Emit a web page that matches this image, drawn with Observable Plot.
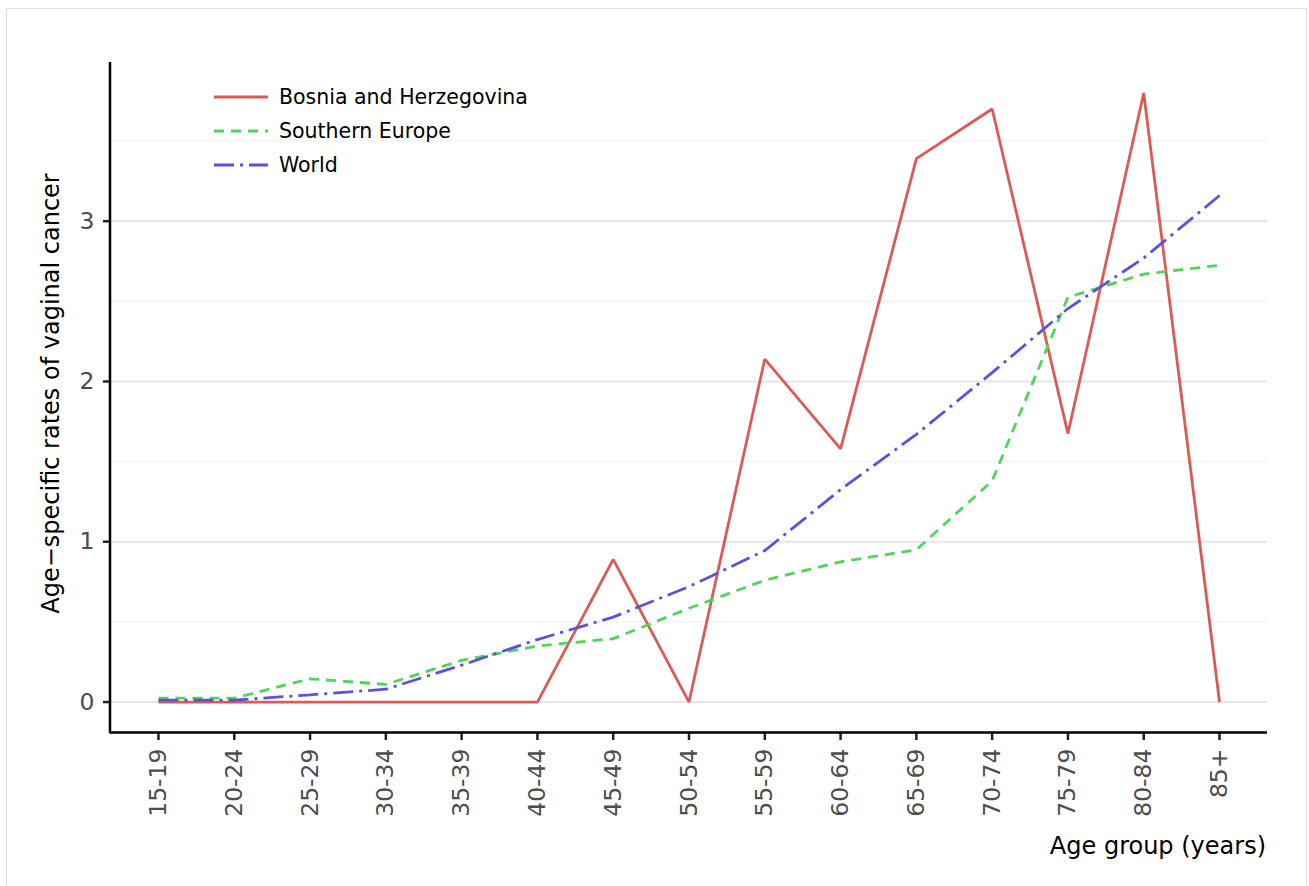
<!DOCTYPE html>
<html>
<head>
<meta charset="utf-8">
<script src="https://cdn.jsdelivr.net/npm/d3@7"></script>
<script src="https://cdn.jsdelivr.net/npm/@observablehq/plot@0.6"></script>
<style>
  html, body { margin: 0; padding: 0; background: #fff; }
  #wrap { position: relative; width: 1309px; height: 886px; overflow: hidden; }
  #border { position: absolute; left: 6px; top: 8px; width: 1301px; height: 900px; border: 1.5px solid #dedede; box-sizing: border-box; }
  #chart { position: absolute; left: 0; top: 0; }
</style>
</head>
<body>
<div id="wrap"><div id="border"></div><div id="chart"></div></div>
<script>
// ---- Data ----
const ages = ["15-19","20-24","25-29","30-34","35-39","40-44","45-49","50-54","55-59","60-64","65-69","70-74","75-79","80-84","85+"];
const bosnia   = [0, 0, 0, 0, 0, 0, 0.89, 0, 2.14, 1.58, 3.39, 3.70, 1.675, 3.80, 0];
const southern = [0.025, 0.025, 0.145, 0.11, 0.26, 0.35, 0.395, 0.585, 0.76, 0.875, 0.95, 1.38, 2.525, 2.67, 2.725];
const world    = [0.012, 0.012, 0.045, 0.08, 0.23, 0.39, 0.53, 0.72, 0.945, 1.325, 1.67, 2.055, 2.455, 2.77, 3.16];
const seriesNames = ["Bosnia and Herzegovina", "Southern Europe", "World"];
const yTicks = [0, 1, 2, 3];
const yMinor = [0.5, 1.5, 2.5, 3.5];
const xTitle = "Age group (years)";
const yTitle = "Age\u2212specific rates of vaginal cancer";

// ---- Styles ----
const colors = ["#da5b55", "#50d55b", "#5b52da"];
const dashes = ["none", "10,7", "20,6,3,6"];
const FONT = "DejaVu Sans";

const table = [];
[bosnia, southern, world].forEach((vals, s) => {
  vals.forEach((v, i) => table.push({series: seriesNames[s], age: ages[i], value: v}));
});

const W = 1309, H = 886, mL = 110, mR = 42, mT = 62, mB = 154;

const lineMarks = seriesNames.map((name, s) =>
  Plot.line(table.filter(d => d.series === name), {
    x: "age", y: "value", stroke: colors[s], strokeWidth: 2.8,
    strokeDasharray: dashes[s], strokeLinejoin: "miter", strokeLinecap: "butt"
  })
);

const chart = Plot.plot({
  width: W, height: H,
  marginLeft: mL, marginRight: mR, marginTop: mT, marginBottom: mB,
  x: {type: "point", domain: ages, padding: 0.633, round: false},
  y: {domain: [-0.19, 3.99]},
  style: {fontFamily: FONT, background: "transparent"},
  marks: [
    Plot.ruleY(yMinor, {stroke: "#f4f4f4", strokeWidth: 1.5}),
    Plot.ruleY(yTicks, {stroke: "#e5e5e5", strokeWidth: 2}),
    Plot.axisY(yTicks, {tickSize: 7, tickPadding: 9, fontSize: 23.5, fill: "#4d4d4d", stroke: "#222", strokeWidth: 2.5, tickFormat: d => String(d), label: null}),
    Plot.axisX({tickRotate: -90, tickSize: 8, tickPadding: 8, fontSize: 23.5, fill: "#4d4d4d", stroke: "#222", strokeWidth: 2.5, label: null}),
    ...lineMarks,
    Plot.ruleY([-0.19], {stroke: "#000", strokeWidth: 2.5})
  ]
});

document.getElementById("chart").appendChild(chart);

const svg = d3.select(chart);
// left axis line
svg.append("line")
  .attr("x1", mL).attr("x2", mL).attr("y1", mT).attr("y2", H - mB + 1.25)
  .attr("stroke", "#000").attr("stroke-width", 2.5);

// axis titles
svg.append("text")
  .attr("transform", `translate(51,${(172 + 615) / 2}) rotate(-90)`)
  .attr("text-anchor", "middle").attr("dominant-baseline", "central")
  .attr("font-family", FONT).attr("font-size", 24).attr("fill", "#000")
  .text(yTitle);
svg.append("text")
  .attr("x", W - mR - 1).attr("y", 854)
  .attr("text-anchor", "end")
  .attr("font-family", FONT).attr("font-size", 24).attr("fill", "#000")
  .text(xTitle);

// legend
const lg = svg.append("g");
seriesNames.forEach((name, s) => {
  const y = 97 + s * 34;
  lg.append("line").attr("x1", 214).attr("x2", 268).attr("y1", y).attr("y2", y)
    .attr("stroke", colors[s]).attr("stroke-width", 2.8)
    .attr("stroke-dasharray", dashes[s]);
  lg.append("text").attr("x", 279).attr("y", y).attr("dominant-baseline", "central")
    .attr("text-anchor", "start")
    .attr("font-family", FONT).attr("font-size", 20.5).attr("fill", "#000")
    .text(name);
});
</script>
</body>
</html>
